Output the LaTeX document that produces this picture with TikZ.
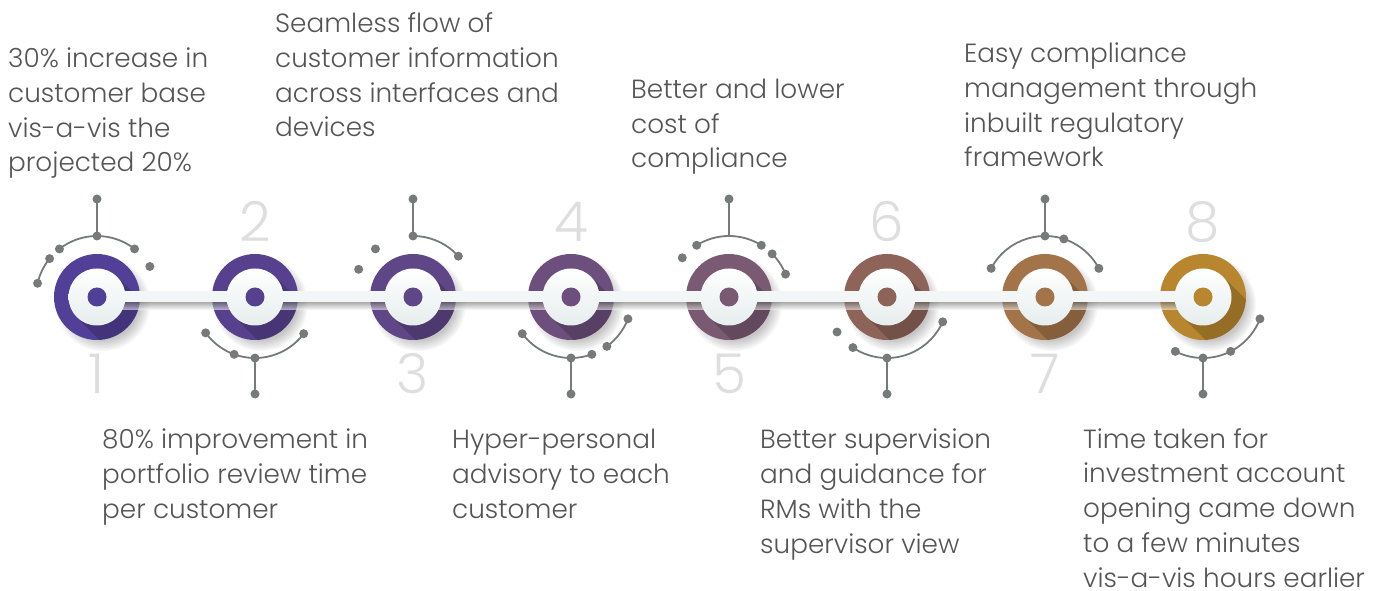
\documentclass[tikz,border=0pt]{standalone}
\usepackage{fontspec}
\IfFontExistsTF{Poppins Light}{\setmainfont{Poppins Light}}{\setmainfont{Poppins}}
\usetikzlibrary{calc}

\definecolor{ringA}{HTML}{523F97}
\definecolor{ringB}{HTML}{57418F}
\definecolor{ringC}{HTML}{5F4686}
\definecolor{ringD}{HTML}{6C4F7C}
\definecolor{ringE}{HTML}{7A5A72}
\definecolor{ringF}{HTML}{8E6459}
\definecolor{ringG}{HTML}{A3744A}
\definecolor{ringH}{HTML}{B8862E}
\definecolor{wiregray}{HTML}{767A7A}
\definecolor{numgray}{HTML}{DEDEDE}
\definecolor{txtgray}{HTML}{555555}
\definecolor{barwhite}{HTML}{F3F6F7}
\definecolor{diskbot}{HTML}{E6EDED}

\tikzset{
  wire/.style={wiregray, line width=1.8pt},
  pin/.style={fill=wiregray},
  numlabel/.style={numgray, font=\fontsize{55}{55}\selectfont, anchor=base, inner sep=0pt},
  blurb/.style={txtgray, font=\fontsize{26.3}{34.7}\selectfont, align=left, anchor=base west, inner sep=0pt},
}

\begin{document}
\begin{tikzpicture}[x=1pt,y=1pt]
\useasboundingbox (0,0) rectangle (1385,590);
%\draw[step=100,gray,very thin] (0,0) grid (1385,590);
\coordinate (c1) at (97,293);
\coordinate (c2) at (255,293);
\coordinate (c3) at (413,293);
\coordinate (c4) at (571,293);
\coordinate (c5) at (729,293);
\coordinate (c6) at (887,293);
\coordinate (c7) at (1045,293);
\coordinate (c8) at (1203,293);

% rings with soft shadow
\foreach \i/\col in {1/ringA,2/ringB,3/ringC,4/ringD,5/ringE,6/ringF,7/ringG,8/ringH}{
  \begin{scope}[shift={(c\i)}]
    \foreach \k in {0,...,7}
      \fill[black,opacity=0.03] (6,-7) circle (47-\k*1.5);
    \fill[\col] (0,0) circle (43);
    \begin{scope}
      \clip (0,0) circle (43);
      \fill[black,opacity=0.18] (45:28.5) -- ++(-45:90) -- ($(225:28.5)+(-45:90)$) -- (225:28.5) -- cycle;
    \end{scope}
  \end{scope}
}

% bar
\shade[top color=black!55, bottom color=white, opacity=0.6] (97,280) rectangle (1203,288);
\fill[barwhite] (97,288) rectangle (1203,299);

% disks
\foreach \i/\col in {1/ringA,2/ringB,3/ringC,4/ringD,5/ringE,6/ringF,7/ringG,8/ringH}{
  \shade[top color=white, bottom color=diskbot] (c\i) circle (28.5);
  \fill[\col] (c\i) circle (9.5);
}

% 1
\draw[wire] (c1) ++(0,61) -- ++(0,37);
\draw[wire] (c1) ++(128:61) arc[start angle=128,end angle=52,radius=61];
\draw[wire] (c1) ++(141:61) arc[start angle=141,end angle=167,radius=61];
\foreach \a in {128,90,52,141,167,30} \fill[pin] (c1) ++(\a:61) circle (4.5);
\fill[pin] (c1) ++(0,98) circle (4.5);
% 2
\draw[wire] (c2) ++(0,-61) -- ++(0,-36);
\draw[wire] (c2) ++(-144:61) arc[start angle=-144,end angle=-37,radius=61];
\foreach \a in {-144,-110,-90,-37} \fill[pin] (c2) ++(\a:61) circle (4.5);
\fill[pin] (c2) ++(0,-97) circle (4.5);
% 3
\draw[wire] (c3) ++(0,61) -- ++(0,37);
\draw[wire] (c3) ++(90:61) arc[start angle=90,end angle=42,radius=61];
\foreach \a in {90,42,128,153} \fill[pin] (c3) ++(\a:61) circle (4.5);
\fill[pin] (c3) ++(0,98) circle (4.5);
% 4
\draw[wire] (c4) ++(0,-61) -- ++(0,-36);
\draw[wire] (c4) ++(-143:61) arc[start angle=-143,end angle=-70,radius=61];
\draw[wire] (c4) ++(-54:61) arc[start angle=-54,end angle=-21,radius=61];
\foreach \a in {-143,-90,-70,-54,-21} \fill[pin] (c4) ++(\a:61) circle (4.5);
\fill[pin] (c4) ++(0,-97) circle (4.5);
% 5
\draw[wire] (c5) ++(0,61) -- ++(0,37);
\draw[wire] (c5) ++(122:61) arc[start angle=122,end angle=58,radius=61];
\draw[wire] (c5) ++(45:61) arc[start angle=45,end angle=22,radius=61];
\foreach \a in {122,58,45,22,140} \fill[pin] (c5) ++(\a:61) circle (4.5);
\fill[pin] (c5) ++(0,98) circle (4.5);
% 6
\draw[wire] (c6) ++(0,-61) -- ++(0,-36);
\draw[wire] (c6) ++(-124:61) arc[start angle=-124,end angle=-24,radius=61];
\foreach \a in {-124,-90,-24,-145} \fill[pin] (c6) ++(\a:61) circle (4.5);
\fill[pin] (c6) ++(0,-97) circle (4.5);
% 7
\draw[wire] (c7) ++(0,61) -- ++(0,37);
\draw[wire] (c7) ++(152:61) arc[start angle=152,end angle=28,radius=61];
\foreach \a in {152,90,72,28} \fill[pin] (c7) ++(\a:61) circle (4.5);
\fill[pin] (c7) ++(0,98) circle (4.5);
% 8
\draw[wire] (c8) ++(0,-61) -- ++(0,-36);
\draw[wire] (c8) ++(-117:61) arc[start angle=-117,end angle=-21,radius=61];
\foreach \a in {-117,-90,-63,-21} \fill[pin] (c8) ++(\a:61) circle (4.5);
\fill[pin] (c8) ++(0,-97) circle (4.5);

% numbers
\node[numlabel] (n1) at (97,197) {1};
\node[numlabel] (n2) at (255,348) {2};
\node[numlabel] (n3) at (413,197) {3};
\node[numlabel] (n4) at (571,348) {4};
\node[numlabel] (n5) at (729,197) {5};
\node[numlabel] (n6) at (887,348) {6};
\node[numlabel] (n7) at (1045,197) {7};
\node[numlabel] (n8) at (1203,348) {8};

% texts (anchored at the baseline of their last line)
\node[blurb] (t1) at (8,418) {30\% increase in\\customer base\\vis-a-vis the\\projected 20\%};
\node[blurb] (t2) at (275,453) {Seamless flow of\\customer information\\across interfaces and\\devices};
\node[blurb] (t3) at (631,422) {Better and lower\\cost of\\compliance};
\node[blurb] (t4) at (964,423) {Easy compliance\\management through\\inbuilt regulatory\\framework};
\node[blurb] (t5) at (102,72) {80\% improvement in\\portfolio review time\\per customer};
\node[blurb] (t6) at (452,72) {Hyper-personal\\advisory to each\\customer};
\node[blurb] (t7) at (760,37) {Better supervision\\and guidance for\\RMs with the\\supervisor view};
\node[blurb] (t8) at (1083,3) {Time taken for\\investment account\\opening came down\\to a few minutes\\vis-a-vis hours earlier};
\end{tikzpicture}
\end{document}
